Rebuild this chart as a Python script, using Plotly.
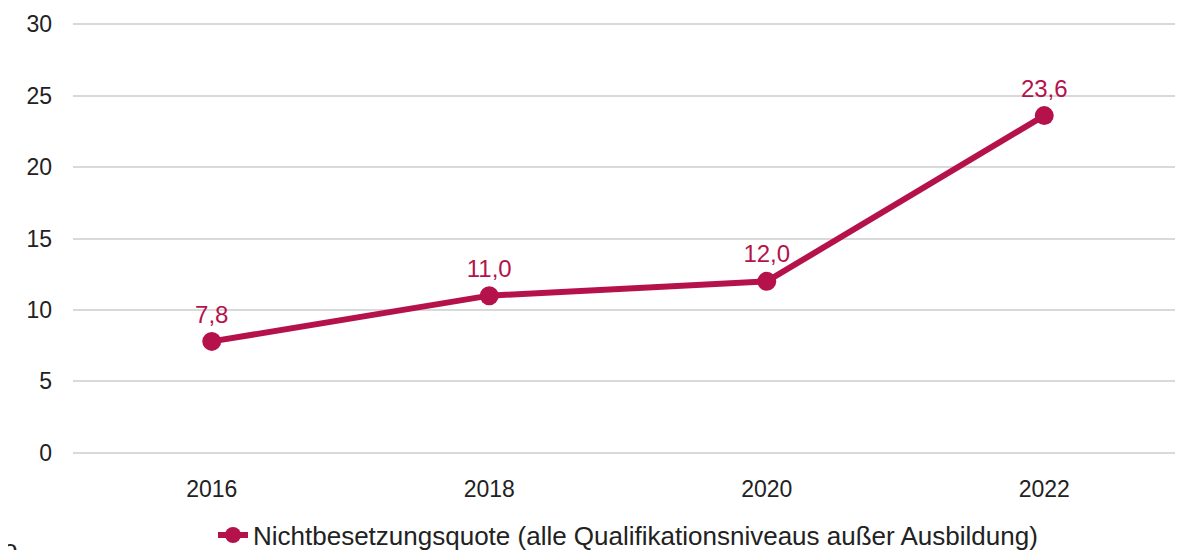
import plotly.graph_objects as go

years = ["2016", "2018", "2020", "2022"]
quote = [7.8, 11.0, 12.0, 23.6]
series_name = "Nichtbesetzungsquote (alle Qualifikationsniveaus außer Ausbildung)"

color = "#B5124C"
font_family = "Liberation Sans, Arial"

fig = go.Figure()
fig.add_trace(
    go.Scatter(
        x=years,
        y=quote,
        name=series_name,
        mode="lines+markers+text",
        line=dict(color=color, width=6),
        marker=dict(color=color, size=19),
        texttemplate="%{y:.1f}",
        textposition="top center",
        textfont=dict(color=color, size=24, family=font_family),
    )
)

fig.update_layout(
    width=1175,
    height=542,
    separators=",.",
    plot_bgcolor="white",
    paper_bgcolor="white",
    font=dict(family=font_family, size=23, color="#222222"),
    margin=dict(l=65, r=0, t=14, b=95, autoexpand=False),
    showlegend=True,
    legend=dict(
        orientation="h",
        x=0.5,
        xanchor="center",
        y=-0.185,
        yanchor="middle",
        font=dict(size=26, color="#222222"),
    ),
    xaxis=dict(
        type="category",
        range=[-0.5, 3.5],
        showgrid=False,
        showline=False,
        ticklabelstandoff=18,
    ),
    yaxis=dict(
        range=[-0.15, 30.15],
        tickvals=[0, 5, 10, 15, 20, 25, 30],
        gridcolor="#D9D9D9",
        gridwidth=2,
        zeroline=False,
        showline=False,
        ticklabelstandoff=20,
    ),
)

fig.add_annotation(
    text="o", x=0, y=-0.19, xref="paper", yref="paper", xanchor="left",
    yanchor="top", xshift=-72, yshift=5, showarrow=False,
    font=dict(size=26, color="#222222"),
)

fig.write_html("out.html")
